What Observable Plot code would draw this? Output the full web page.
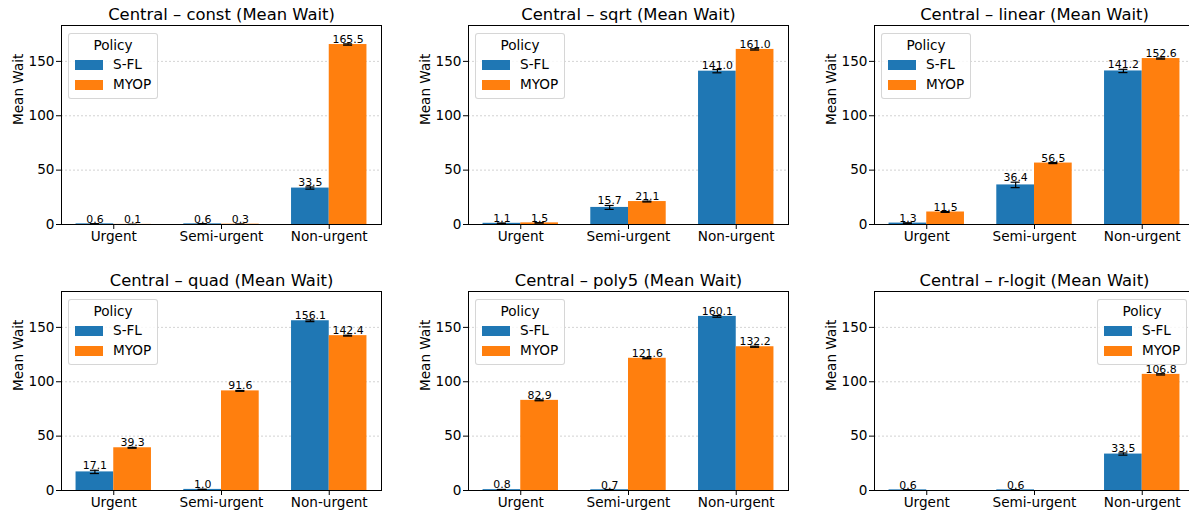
<!DOCTYPE html>
<html>
<head>
<meta charset="utf-8">
<script src="https://cdn.jsdelivr.net/npm/d3@7"></script>
<script src="https://cdn.jsdelivr.net/npm/@observablehq/plot@0.6"></script>
<style>
  html, body { margin: 0; padding: 0; background: #fff; overflow: hidden; }
  #root { position: relative; width: 1189px; height: 512px; overflow: hidden; background: #fff; font-family: "DejaVu Sans", sans-serif; }
  .panel { position: absolute; }
  .legend { position: absolute; width: 88px; height: 64px; border: 1px solid rgba(204,204,204,0.8); border-radius: 3px; background: rgba(255,255,255,0.8); font-size: 13.6px; color: #000; }
  .legend .lt { position: absolute; left: 0; right: 0; top: 3px; text-align: center; }
  .legend .sw { position: absolute; left: 6px; width: 28px; height: 10px; }
  .legend .lb { position: absolute; left: 44px; }
</style>
</head>
<body>
<div id="root"></div>
<script>
const categories = ["Urgent", "Semi-urgent", "Non-urgent"];
const policies = ["S-FL", "MYOP"];
const panelTitles = [
  "Central – const (Mean Wait)",
  "Central – sqrt (Mean Wait)",
  "Central – linear (Mean Wait)",
  "Central – quad (Mean Wait)",
  "Central – poly5 (Mean Wait)",
  "Central – r-logit (Mean Wait)"
];
const sflMeans = [
  [0.6, 0.6, 33.5],
  [1.1, 15.7, 141.0],
  [1.3, 36.4, 141.2],
  [17.1, 1.0, 156.1],
  [0.8, 0.7, 160.1],
  [0.6, 0.6, 33.5]
];
const sflErr = [
  [0.1, 0.1, 1.0],
  [0.2, 1.8, 1.5],
  [0.2, 2.5, 1.5],
  [1.5, 0.2, 0.8],
  [0.2, 0.2, 0.8],
  [0.1, 0.1, 1.0]
];
const myopMeans = [
  [0.1, 0.3, 165.5],
  [1.5, 21.1, 161.0],
  [11.5, 56.5, 152.6],
  [39.3, 91.6, 142.4],
  [82.9, 121.6, 132.2],
  [null, null, 106.8]
];
const myopErr = [
  [0.05, 0.05, 0.6],
  [0.2, 0.4, 0.6],
  [0.4, 0.5, 0.5],
  [0.4, 0.4, 0.4],
  [0.4, 0.4, 0.5],
  [null, null, 0.6]
];
const yTicks = [0, 50, 100, 150];
const legendRight = [false, false, false, false, false, true];

const colors = ["#1f77b4", "#ff7f0e"];
const barW = 0.35;
const capHalf = 0.042;
const root = document.getElementById("root");

const panelLeft = [0, 407, 813];
const panelTop = [0, 266];

for (let p = 0; p < 6; p++) {
  const rows = [];
  categories.forEach((c, i) => {
    [sflMeans, myopMeans].forEach((arr, k) => {
      const v = arr[p][i];
      if (v == null) return;
      const e = (k === 0 ? sflErr : myopErr)[p][i];
      const center = i + (k === 0 ? -barW / 2 : barW / 2);
      rows.push({cat: c, policy: policies[k], value: v, err: e, center});
    });
  });

  const plot = Plot.plot({
    width: 386,
    height: 256,
    marginLeft: 61,
    marginRight: 5,
    marginTop: 25,
    marginBottom: 32,
    style: {fontFamily: "DejaVu Sans", fontSize: "13.6px", color: "#000", background: "transparent"},
    x: {domain: [-0.485, 2.485], ticks: [0, 1, 2], tickFormat: i => categories[i], label: null, tickSize: 5, tickPadding: 2},
    y: {domain: [0, 183], ticks: yTicks, label: null, tickSize: 5, tickPadding: 2},
    color: {domain: policies, range: colors},
    marks: [
      Plot.gridY(yTicks.slice(1), {stroke: "#b0b0b0", strokeOpacity: 0.7, strokeDasharray: "2,2", strokeWidth: 0.8}),
      Plot.rectY(rows, {x1: d => d.center - barW / 2, x2: d => d.center + barW / 2, y1: 0, y2: "value", fill: "policy"}),
      Plot.ruleX(rows, {x: "center", y1: d => d.value - d.err, y2: d => d.value + d.err, stroke: "#000", strokeWidth: 1.2}),
      Plot.ruleY(rows, {y: d => d.value - d.err, x1: d => d.center - capHalf, x2: d => d.center + capHalf, stroke: "#000", strokeWidth: 1.2}),
      Plot.ruleY(rows, {y: d => d.value + d.err, x1: d => d.center - capHalf, x2: d => d.center + capHalf, stroke: "#000", strokeWidth: 1.2}),
      Plot.text(rows, {x: "center", y: d => d.value + d.err, text: d => d.value.toFixed(1), lineAnchor: "bottom", dy: -1, fontSize: 10.9, fill: "#000"}),
      Plot.frame({stroke: "#000", strokeWidth: 1}),
      Plot.text([panelTitles[p]], {frameAnchor: "top", dy: -6, lineAnchor: "bottom", fontSize: 16.4, fill: "#000"}),
      Plot.text(["Mean Wait"], {frameAnchor: "left", dx: -43, rotate: -90, fontSize: 13.6, fill: "#000"})
    ]
  });

  const wrap = document.createElement("div");
  wrap.className = "panel";
  wrap.style.left = panelLeft[p % 3] + "px";
  wrap.style.top = panelTop[Math.floor(p / 3)] + "px";
  wrap.style.width = "386px";
  wrap.style.height = "256px";
  wrap.appendChild(plot);

  const color = plot.scale("color");
  const lg = document.createElement("div");
  lg.className = "legend";
  if (legendRight[p]) {
    lg.style.left = (61 + 320 - 7 - 90) + "px";
  } else {
    lg.style.left = (61 + 7) + "px";
  }
  lg.style.top = (25 + 8) + "px";
  const lt = document.createElement("div");
  lt.className = "lt";
  lt.textContent = "Policy";
  lg.appendChild(lt);
  policies.forEach((pol, k) => {
    const sw = document.createElement("div");
    sw.className = "sw";
    sw.style.top = (26 + k * 20) + "px";
    sw.style.background = color.apply(pol);
    lg.appendChild(sw);
    const lb = document.createElement("div");
    lb.className = "lb";
    lb.style.top = (22 + k * 20) + "px";
    lb.textContent = pol;
    lg.appendChild(lb);
  });
  wrap.appendChild(lg);
  root.appendChild(wrap);
}
</script>
</body>
</html>
